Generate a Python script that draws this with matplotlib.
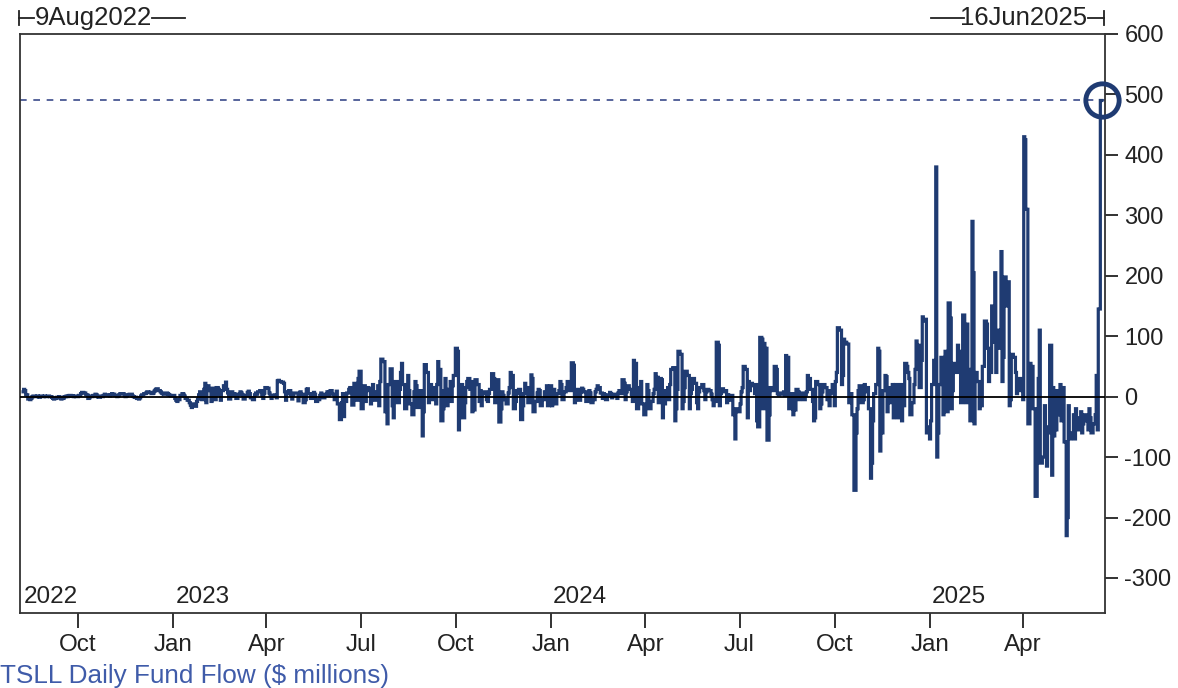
import matplotlib
matplotlib.use("Agg")
import matplotlib.pyplot as plt
import matplotlib.dates as mdates
from matplotlib.lines import Line2D
import numpy as np
import pandas as pd

# TSLL daily fund flow, $ millions (one value per business day)
flows_2022 = [
    # Aug (from 9th)
    8, 12, 10, 3, -4, -5, -3, 0, 1, 0, 1, 0, -1, 1, 0, 1, 0,
    # Sep
    0, 1, 0, -1, -3, -4, -3, -1, 0, -2, -4, -3, 0, 1, 0, 1, 2, 1, 0, 1, 0, 0,
    # Oct
    2, 5, 7, 7, 6, 3, -3, -2, 1, 0, 2, 4, 3, 0, -1, 1, 0, 2, 4, 3, 2,
    # Nov
    1, 3, 5, 4, 2, 0, 1, 3, 5, 5, 2, 0, 1, 3, 4, 4, 1, 0, -1, -3, -4, -2,
    # Dec
    1, 3, 5, 6, 8, 8, 7, 5, 6, 9, 11, 13, 10, 8, 6, 5, 4, 6, 5, 3, 2, 1,
]

flows_2023 = [
    # Jan
    2, -3, -6, -8, -5, 2, 5, 4, 1, -3, -6, -10, -14, -18, -12, -16, -8, -4, 3, 8, -5, 12,
    # Feb
    22, -10, 18, 10, -8, 14, 6, -5, 15, 12, 3, -6, 10, 18, 24, 12, 6, -4, 8, 3,
    # Mar
    5, 2, -3, 4, 8, 6, 3, -4, 2, 7, 9, 5, -2, -5, 3, 6, 4, 8, 10, 3, -3, 6, 15,
    # Apr
    14, 6, 2, -3, 1, 3, -2, 26, 27, 25, 24, 22, 8, -6, 5, 10, 3, -4, 2, 6,
    # May
    6, -7, 3, 8, 4, -10, -5, 12, 13, 5, -3, 2, 7, 4, -8, -5, 2, 6, 3, -2, 4, 8, 2,
    # Jun
    8, 10, 4, -5, 3, 9, -12, -38, -10, 5, -33, -8, 6, 12, 15, 8, -14, 22, 16, -6, 30, 42,
    # Jul
    -20, 12, 18, -8, 15, 10, -12, 14, 20, -6, 8, 18, -15, 25, 62, 58, -25, 10, -45, 20, 46,
    # Aug
    -15, -35, 18, 25, -10, 12, 40, 55, 20, -20, 15, 35, 10, -12, -30, 8, 25, 18, -18, 10, -8, -65, -25,
    # Sep
    53, 40, -10, 8, 20, -5, 15, -12, 20, 58, 45, -40, -20, 10, 30, -15, 12, 25, -8, 18, 35,
    # Oct
    80, 75, -55, -20, 20, -35, -10, 15, 25, 30, 12, -25, 25, -22, 28, 20, -8, 10, -15, 5, 8, -5,
    # Nov
    -8, 5, 12, 38, 30, -10, 8, 28, -42, -20, 8, 2, -5, -12, 6, 15, 40, 35, -20, -8, 10, 5,
    # Dec
    12, -38, -15, 5, 22, 15, -10, 8, 36, 30, -25, -8, 6, 12, 10, -15, -5, 8, 4, 18, -15,
]

flows_2024 = [
    # Jan
    18, -15, -8, 12, -12, 5, 10, 25, 20, -5, 8, 15, 25, 18, 10, 56, 52, -10, 5, 12, -6, 8, 14,
    # Feb
    12, 8, -8, 4, 10, 6, -10, -5, 8, 12, 18, 15, 6, -3, 5, 2, -5, 3, 7, 4, -2,
    # Mar
    4, 2, -3, 6, 10, 5, 28, 22, -5, 8, 18, 12, 4, -8, 60, 55, -20, 10, 15, 25, -12,
    # Apr
    -30, -15, 20, 10, -20, -8, 5, 12, 38, 32, -10, 30, 28, -35, -12, 10, 15, -5, 20, 45, 48, -40,
    # May
    -20, 12, 75, 70, -20, -8, 15, 42, 35, -20, 5, 12, 30, 22, -10, -20, 8, 15, 20, 10, -5, 8, 12,
    # Jun
    10, 4, -5, -15, -8, 90, 85, -15, 5, 13, 8, 10, -10, 3, -6, 2, -30, -25, -70, -20,
    # Jul
    -25, -12, 8, 15, 50, 45, -35, 25, 10, 22, 18, 5, 20, -40, -50, 98, 95, -20, 88, 80, -72, -30, 15,
    # Aug
    15, 10, 50, 45, 5, 3, 6, 4, 8, 2, 68, 65, -20, -10, 5, -30, -22, 12, 8, -5, 3, 6,
    # Sep
    -5, 3, 8, 35, 30, 12, -8, -40, -35, 25, 20, -20, -12, 8, 20, 15, -5, 10, -15, 6, 20,
    # Oct
    -15, 25, 40, 114, 110, 20, 35, 95, 90, 87, -10, -5, 5, -30, -155, -60, -20, 10, 18, -10, -5, 20, 8,
    # Nov
    15, -20, -135, -110, -40, 5, 20, 80, 75, -90, -60, 10, 35, 33, -25, -10, 15, 20, -35, -15, 20,
    # Dec
    -35, -20, 20, -40, -15, 55, 50, 40, 30, -30, -10, 20, 45, 92, 85, 15, 60, 132, 125, 128, -60, -50,
]

flows_2025 = [
    # Jan
    -70, -40, 20, 60, 380, -100, -60, 20, 65, -30, 45, 75, -25, 155, 130, -20, 10, 55, 40, 85, 70, 75, -10,
    # Feb
    135, 110, -10, 120, 45, -40, 290, 205, -45, 40, 25, -20, 20, -15, 50, 125, 120, 80, 25, 40,
    # Mar
    150, 90, 205, 40, 80, 110, 240, 25, 65, 198, 150, 190, -15, -5, 70, 65, 40, 5, 15, 30, 10,
    # Apr
    -5, 430, 425, 310, -45, 55, 20, 50, -20, -165, -80, 30, 110, -110, -100, -15, -50, -115, -60, 85, -130, 15,
    # May
    -65, -55, 10, -30, 20, -40, 15, -75, -230, -200, -15, -70, -60, -30, -70, -20, -55, -35, -25, -60, -45, -30,
    # Jun (to 16th)
    -40, -55, -20, -35, -60, -45, -30, 35, -55, 145, 490,
]

year_ranges = [("2022-08-09", "2022-12-31"), ("2023-01-01", "2023-12-31"),
               ("2024-01-01", "2024-12-31"), ("2025-01-01", "2025-06-16")]
year_flows = [flows_2022, flows_2023, flows_2024, flows_2025]

dates = []
values = []
for (start, end), vals in zip(year_ranges, year_flows):
    d = pd.bdate_range(start, end)
    assert len(d) == len(vals), (start, len(d), len(vals))
    dates.extend(d)
    values.extend(vals)
dates = pd.DatetimeIndex(dates)
values = np.array(values, dtype=float)

navy = "#1f3b72"
text_col = "#222222"
W, H = 1178, 688

plt.rcParams["font.family"] = ["Liberation Sans", "DejaVu Sans"]
plt.rcParams["axes.unicode_minus"] = False

fig = plt.figure(figsize=(W / 100, H / 100), dpi=100)
ax = fig.add_axes([20 / W, 1 - 613 / H, (1105 - 20) / W, (613 - 34) / H])

ax.plot(dates, values, color=navy, lw=2.3, drawstyle="steps-mid", zorder=2,
        solid_joinstyle="miter")
ax.axhline(0, color="black", lw=1.3, zorder=3)
ax.axhline(values[-1], color="#3a4a8a", lw=1.2, ls=(0, (4, 4)), zorder=1)
ax.plot(dates[-1], values[-1], "o", ms=24, mfc="none", mec=navy, mew=3.5,
        clip_on=False, zorder=4)

ax.set_xlim(pd.Timestamp("2022-08-06"), pd.Timestamp("2025-06-19"))
ax.set_ylim(-358, 600)

ax.yaxis.tick_right()
ax.set_yticks(np.arange(-300, 601, 100))
ax.tick_params(axis="y", direction="out", length=9, width=1.3, pad=5,
               labelsize=17, colors=text_col, left=False)
ax.xaxis.set_major_locator(mdates.MonthLocator(bymonth=[1, 4, 7, 10]))
ax.xaxis.set_major_formatter(mdates.DateFormatter("%b"))
ax.tick_params(axis="x", direction="out", length=11, width=1.3, pad=4,
               labelsize=17.5, colors=text_col)

for s in ax.spines.values():
    s.set_color("#333333")
    s.set_linewidth(1.3)

# year labels inside the plot, at the start of each year
year_labels = ["2022", "2023", "2024", "2025"]
ax.text(0.003, 0.008, year_labels[0], transform=ax.transAxes, fontsize=17.5,
        color=text_col, ha="left", va="bottom")
for yl in year_labels[1:]:
    ax.text(mdates.date2num(pd.Timestamp(yl + "-01-01")) + 2, -350, yl,
            fontsize=17.5, color=text_col, ha="left", va="bottom",
            transform=ax.transData)

# date range markers on top
def fx(px):
    return px / W

def fy(py):
    return 1 - py / H

lc = "#222222"
fig.add_artist(Line2D([fx(19), fx(19)], [fy(11), fy(25)], color=lc, lw=1.3))
fig.add_artist(Line2D([fx(19), fx(34)], [fy(18), fy(18)], color=lc, lw=1.3))
fig.text(fx(35), fy(18), "9Aug2022", fontsize=18.5, color=text_col, ha="left", va="center")
fig.add_artist(Line2D([fx(152), fx(185)], [fy(18), fy(18)], color=lc, lw=1.3))

fig.add_artist(Line2D([fx(931), fx(964)], [fy(18), fy(18)], color=lc, lw=1.3))
fig.text(fx(1087), fy(18), "16Jun2025", fontsize=18.5, color=text_col, ha="right", va="center")
fig.add_artist(Line2D([fx(1088), fx(1104)], [fy(18), fy(18)], color=lc, lw=1.3))
fig.add_artist(Line2D([fx(1104), fx(1104)], [fy(11), fy(25)], color=lc, lw=1.3))

fig.text(0.0, fy(676), "TSLL Daily Fund Flow ($ millions)", fontsize=18.8,
         color="#3f5ba9", ha="left", va="center")

fig.savefig("out.png", dpi=100)
plt.close(fig)
